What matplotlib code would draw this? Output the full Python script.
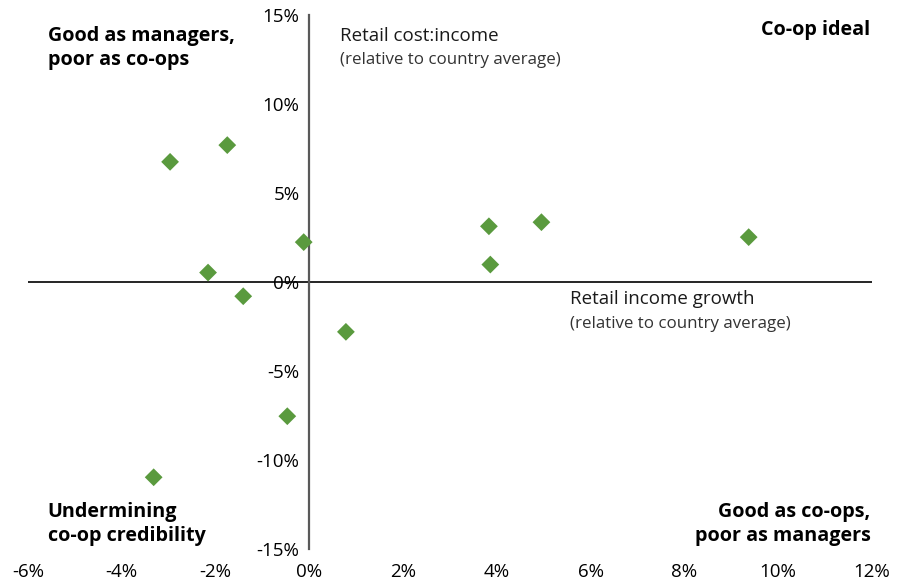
import matplotlib.pyplot as plt
from matplotlib.ticker import FuncFormatter

plt.rcParams['font.family'] = ['Open Sans', 'DejaVu Sans']

# Retail income growth vs retail cost:income, both relative to country average (%)
income_growth = [-2.97, -1.75, -0.12, -2.16, -1.41, 0.78, -0.47, -3.32, 3.83, 3.86, 4.95, 9.37]
cost_income = [6.75, 7.69, 2.24, 0.53, -0.80, -2.80, -7.54, -10.97, 3.13, 0.98, 3.36, 2.52]

x_ticks = [-6, -4, -2, 0, 2, 4, 6, 8, 10, 12]
y_ticks = [-15, -10, -5, 0, 5, 10, 15]

fig = plt.figure(figsize=(9.02, 5.81), dpi=100)
ax = fig.add_axes([28 / 902, 1 - 549 / 581, (872 - 28) / 902, (549 - 15) / 581])

ax.scatter(income_growth, cost_income, marker='D', s=82, color='#5a9a3e',
           edgecolors='none', zorder=3)

ax.set_xlim(-6, 12)
ax.set_ylim(-15, 15)
ax.set_xticks(x_ticks)
ax.set_yticks(y_ticks)
pct = FuncFormatter(lambda v, _: f'{v:.0f}%')
ax.xaxis.set_major_formatter(pct)
ax.yaxis.set_major_formatter(pct)

# vertical axis through x = 0, horizontal rule through y = 0
for side in ['top', 'right', 'bottom']:
    ax.spines[side].set_visible(False)
ax.spines['left'].set_position(('data', 0))
ax.spines['left'].set_color('#595959')
ax.spines['left'].set_linewidth(1.6)
ax.axhline(0, color='black', lw=1.2, zorder=2)

ax.tick_params(axis='both', length=0, labelsize=13.5, colors='black')
ax.tick_params(axis='y', pad=7)
ax.tick_params(axis='x', pad=10)

# quadrant labels
bold = dict(fontsize=14.2, fontweight='bold', color='black', linespacing=1.25)
ax.text(-5.58, 13.15, 'Good as managers,\npoor as co-ops', ha='left', va='center', **bold)
ax.text(11.97, 14.15, 'Co-op ideal', ha='right', va='center', **bold)
ax.text(-5.58, -13.6, 'Undermining\nco-op credibility', ha='left', va='center', **bold)
ax.text(11.97, -13.6, 'Good as co-ops,\npoor as managers', ha='right', va='center', **bold)

# axis titles
ax.text(0.65, 13.8, 'Retail cost:income', ha='left', va='center', fontsize=13.5, color='#1a1a1a')
ax.text(0.65, 12.5, '(relative to country average)', ha='left', va='center', fontsize=12.2, color='#333333')
ax.text(5.55, -0.93, 'Retail income growth', ha='left', va='center', fontsize=13.5, color='#1a1a1a')
ax.text(5.55, -2.35, '(relative to country average)', ha='left', va='center', fontsize=12.2, color='#333333')

fig.savefig('out.png', dpi=100)
